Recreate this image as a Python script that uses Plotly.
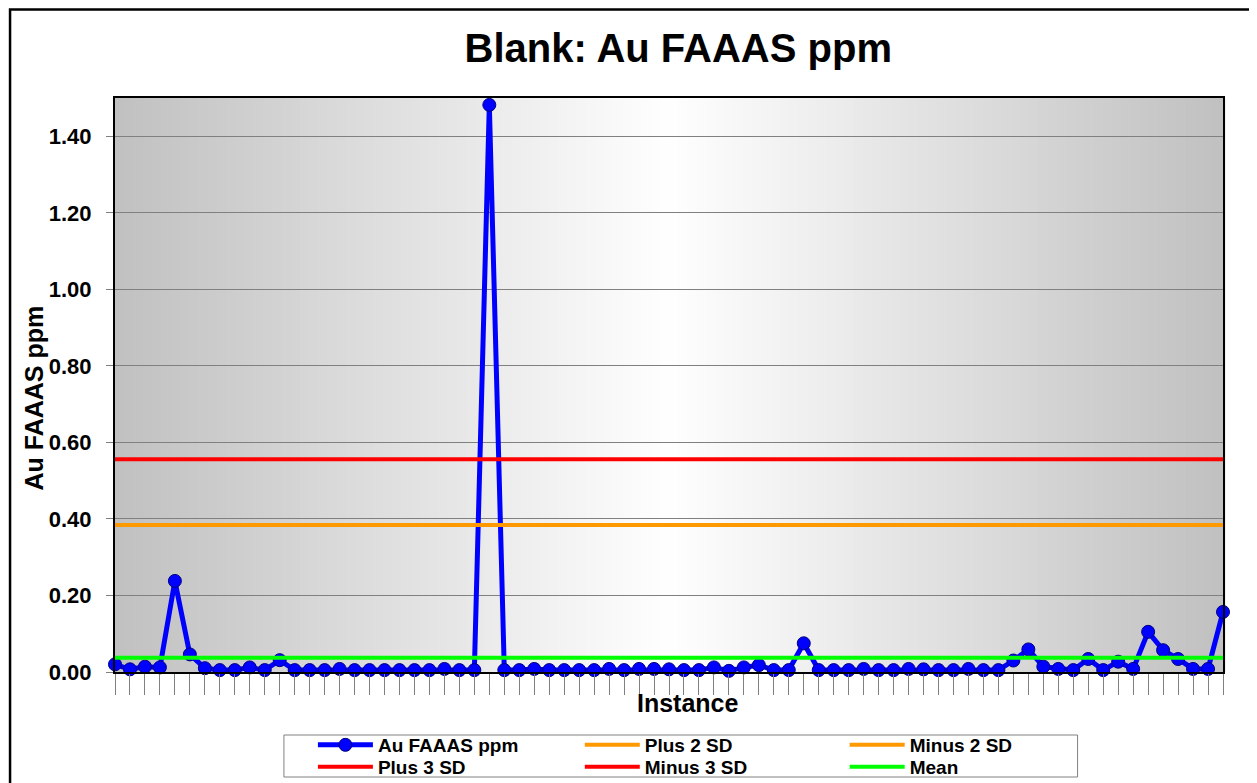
import plotly.graph_objects as go

# Blank sample results, Au FAAAS ppm, one value per instance
instances = list(range(1, 76))
au_ppm = [
    0.020, 0.007, 0.014, 0.012, 0.238, 0.046, 0.010, 0.005, 0.005, 0.012,
    0.005, 0.031, 0.005, 0.005, 0.005, 0.008, 0.005, 0.005, 0.005, 0.005,
    0.005, 0.005, 0.008, 0.005, 0.005, 1.482, 0.005, 0.005, 0.008, 0.005,
    0.005, 0.005, 0.005, 0.008, 0.005, 0.008, 0.008, 0.007, 0.005, 0.005,
    0.012, 0.003, 0.012, 0.018, 0.005, 0.005, 0.075, 0.005, 0.005, 0.005,
    0.008, 0.005, 0.005, 0.008, 0.007, 0.005, 0.005, 0.008, 0.005, 0.005,
    0.030, 0.059, 0.014, 0.008, 0.005, 0.034, 0.005, 0.027, 0.008, 0.105,
    0.057, 0.034, 0.008, 0.008, 0.157,
]

# control limits
mean_val = 0.037
plus_2sd = 0.384
minus_2sd = -0.310
plus_3sd = 0.556
minus_3sd = -0.483

FONT = "Liberation Sans, Arial, sans-serif"
W, H = 1257, 783
OFF = 8  # the page body margin shifts the figure by this much

# plot area in screen pixels (left, right, top, bottom)
PL, PR, PT, PB = 115 - OFF, 1223.5 - OFF, 98 - OFF, 672 - OFF
PW, PH = PR - PL, PB - PT

def px_x(v):
    return (v - OFF - PL) / PW

def px_y(v):
    return (PB - (v - OFF)) / PH

fig = go.Figure()

# legend slots: (legend id, left x, row centre y)
slots = {
    "Au FAAAS ppm": ("legend", 313, 745),
    "Plus 2 SD": ("legend2", 580, 745),
    "Minus 2 SD": ("legend3", 845, 745),
    "Plus 3 SD": ("legend4", 313, 767),
    "Minus 3 SD": ("legend5", 580, 767),
    "Mean": ("legend6", 845, 767),
}

fig.add_trace(go.Scatter(
    x=instances, y=au_ppm, name="Au FAAAS ppm", mode="lines+markers",
    line=dict(color="#0000FF", width=5),
    marker=dict(size=13, color="#0000FF", line=dict(color="#000080", width=1)),
    cliponaxis=False, legend=slots["Au FAAAS ppm"][0],
))

limits = [
    ("Plus 2 SD", plus_2sd, "#FF9900"),
    ("Minus 2 SD", minus_2sd, "#FF9900"),
    ("Plus 3 SD", plus_3sd, "#FF0000"),
    ("Minus 3 SD", minus_3sd, "#FF0000"),
    ("Mean", mean_val, "#00FF00"),
]
for name, val, col in limits:
    fig.add_trace(go.Scatter(
        x=instances, y=[val] * len(instances), name=name, mode="lines",
        line=dict(color=col, width=4), legend=slots[name][0],
    ))

# horizontal grey-white-grey gradient behind the plot
shapes = []
n_strips = 120
for i in range(n_strips):
    t = (i + 0.5) / n_strips
    v = int(round(192 + 63 * (1 - abs(t - 0.5) * 2)))
    shapes.append(dict(
        type="rect", xref="x domain", yref="y domain",
        x0=i / n_strips, x1=(i + 1) / n_strips + 0.002, y0=0, y1=1,
        fillcolor=f"rgb({v},{v},{v})", line=dict(width=0), layer="below",
    ))

# outer chart frame
shapes.append(dict(
    type="rect", xref="paper", yref="paper",
    x0=px_x(10), x1=px_x(1300), y0=px_y(830), y1=px_y(OFF + 1.5),
    line=dict(color="black", width=2.5), fillcolor="rgba(0,0,0,0)",
))
# legend box
shapes.append(dict(
    type="rect", xref="paper", yref="paper",
    x0=px_x(284), x1=px_x(1078), y0=px_y(777), y1=px_y(735),
    line=dict(color="#808080", width=1), fillcolor="white",
))

annotations = [
    dict(text="Instance", xref="paper", yref="paper", x=px_x(688.5), y=px_y(703),
         xanchor="center", yanchor="middle", showarrow=False,
         font=dict(size=25, weight="bold", family=FONT)),
    dict(text="Au FAAAS ppm", xref="paper", yref="paper", x=px_x(33), y=px_y(398.5),
         xanchor="center", yanchor="middle", showarrow=False, textangle=-90,
         font=dict(size=25, weight="bold", family=FONT)),
]

legends = {}
for name, (lid, lx, ly) in slots.items():
    legends[lid] = dict(
        orientation="v", x=px_x(lx), xanchor="left", y=px_y(ly), yanchor="middle",
        borderwidth=0, bgcolor="rgba(0,0,0,0)",
        font=dict(size=19, weight="bold", family=FONT), itemwidth=55,
    )

fig.update_layout(
    width=W, height=H,
    margin=dict(l=PL, r=W - PR, t=PT, b=H - PB, autoexpand=False),
    paper_bgcolor="white", plot_bgcolor="white",
    font=dict(family=FONT, color="black", weight="bold"),
    title=dict(
        text="Blank: Au FAAAS ppm", xref="paper", x=px_x(678.5), xanchor="center",
        yref="container", y=1 - 40 / H, yanchor="middle",
        font=dict(size=40, family=FONT, weight="bold", color="black"),
    ),
    xaxis=dict(
        range=[1, 75], tickmode="linear", tick0=1, dtick=1, automargin=False,
        showticklabels=False, ticks="outside", ticklen=21, tickcolor="#808080", tickwidth=1,
        showgrid=False, zeroline=False,
        showline=True, linecolor="black", linewidth=2, mirror=True,
    ),
    yaxis=dict(
        range=[0, 1.5], tickmode="linear", tick0=0, dtick=0.2, tickformat=".2f",
        automargin=False,
        ticks="outside", ticklen=7, tickcolor="#808080",
        tickfont=dict(size=22, weight="bold"), ticklabelstandoff=10,
        showgrid=True, gridcolor="#808080", gridwidth=1, zeroline=False,
        showline=True, linecolor="black", linewidth=2, mirror=True,
    ),
    shapes=shapes,
    annotations=annotations,
    showlegend=True,
    **legends,
)

fig.write_html("out.html")
